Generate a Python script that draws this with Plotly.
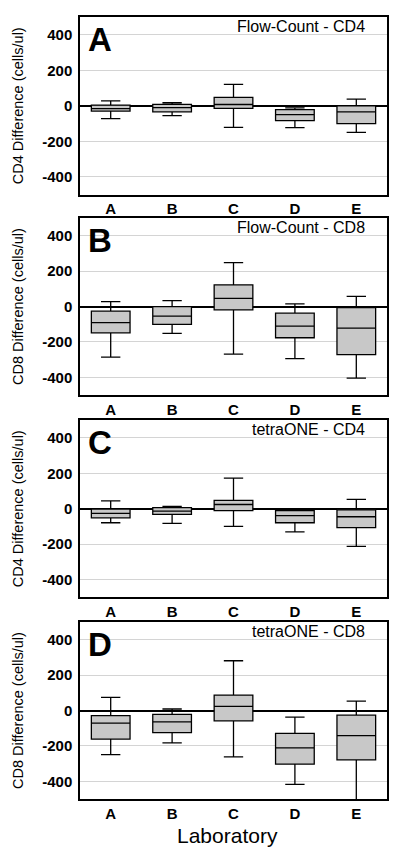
import plotly.graph_objects as go

labs = ["A", "B", "C", "D", "E"]

# Panel A: Flow-Count - CD4
a_max = [27, 17, 120, -12, 37]
a_q3 = [3, 8, 47, -22, 0]
a_med = [-16, -11, 7, -50, -34]
a_q1 = [-30, -34, -15, -84, -101]
a_min = [-72, -56, -122, -123, -150]

# Panel B: Flow-Count - CD8
b_max = [28, 34, 249, 15, 58]
b_q3 = [-26, 0, 123, -37, -6]
b_med = [-90, -54, 47, -110, -122]
b_q1 = [-148, -101, -19, -176, -271]
b_min = [-286, -151, -269, -294, -404]

# Panel C: tetraONE - CD4
c_max = [45, 13, 173, -2, 53]
c_q3 = [-2, 6, 47, -11, -6]
c_med = [-26, -13, 24, -39, -45]
c_q1 = [-51, -32, -11, -79, -107]
c_min = [-79, -83, -100, -131, -212]

# Panel D: tetraONE - CD8
d_max = [75, 9, 282, -37, 54]
d_q3 = [-28, -21, 88, -129, -26]
d_med = [-71, -64, 24, -211, -142]
d_q1 = [-161, -125, -58, -303, -279]
d_min = [-249, -183, -262, -417, -510]

panels = [
    ("A", "Flow-Count - CD4", "CD4 Difference (cells/ul)", a_min, a_q1, a_med, a_q3, a_max),
    ("B", "Flow-Count - CD8", "CD8 Difference (cells/ul)", b_min, b_q1, b_med, b_q3, b_max),
    ("C", "tetraONE - CD4", "CD4 Difference (cells/ul)", c_min, c_q1, c_med, c_q3, c_max),
    ("D", "tetraONE - CD8", "CD8 Difference (cells/ul)", d_min, d_q1, d_med, d_q3, d_max),
]

domains = [[0.773, 1.0], [0.5166, 0.7427], [0.258, 0.4843], [0.0, 0.2261]]

FONT = "Arial, Liberation Sans, sans-serif"

fig = go.Figure()
layout = {}
annotations = []
for i, (letter, title, ytitle, mn, q1, med, q3, mx) in enumerate(panels):
    n = i + 1
    xa = "x" if n == 1 else f"x{n}"
    ya = "y" if n == 1 else f"y{n}"
    fig.add_trace(go.Box(
        x=labs, q1=q1, median=med, q3=q3, lowerfence=mn, upperfence=mx,
        xaxis=xa, yaxis=ya, fillcolor="#c8c8c8",
        line=dict(color="black", width=1.3), width=0.63, whiskerwidth=0.5,
        boxpoints=False, showlegend=False, hoverinfo="skip",
    ))
    xkey = "xaxis" if n == 1 else f"xaxis{n}"
    ykey = "yaxis" if n == 1 else f"yaxis{n}"
    layout[xkey] = dict(
        domain=[0, 1], anchor=ya, range=[-0.5, 4.5], type="category",
        showline=True, linecolor="black", linewidth=1.5, mirror=True,
        ticks="", showgrid=False,
        tickfont=dict(family=FONT, size=15, color="black", weight="bold"),
    )
    layout[ykey] = dict(
        domain=domains[i], anchor=xa, range=[-500, 500],
        tickvals=[-400, -200, 0, 200, 400],
        ticktext=["-400", "-200", "0", "200", "400"],
        showline=True, linecolor="black", linewidth=1.5, mirror=True,
        showgrid=True, gridcolor="#d4d4d4", gridwidth=1,
        zeroline=True, zerolinecolor="black", zerolinewidth=1.5,
        ticks="", ticklabelstandoff=3,
        tickfont=dict(family=FONT, size=15, color="black", weight="bold"),
        title=dict(text=ytitle, standoff=15,
                   font=dict(family=FONT, size=14.5, color="black")),
    )
    annotations.append(dict(
        text=letter, xref=f"{xa} domain", yref=f"{ya} domain", x=0.02, y=0.99,
        xanchor="left", yanchor="top", showarrow=False,
        font=dict(family=FONT, size=33, color="black", weight="bold"),
    ))
    annotations.append(dict(
        text=title, xref=f"{xa} domain", yref=f"{ya} domain", x=0.935, y=1.005,
        xanchor="right", yanchor="top", showarrow=False,
        font=dict(family=FONT, size=16, color="black"),
    ))

annotations.append(dict(
    text="Laboratory", xref="paper", yref="paper", x=0.482, y=-0.03,
    xanchor="center", yanchor="top", showarrow=False,
    font=dict(family=FONT, size=21, color="black"),
))

# page body adds an 8px offset; figure sized to fit the window
fig.update_layout(
    width=392, height=849,
    margin=dict(l=72, r=13, t=7, b=58),
    paper_bgcolor="white", plot_bgcolor="white",
    annotations=annotations, **layout,
)

fig.write_html("out.html")
